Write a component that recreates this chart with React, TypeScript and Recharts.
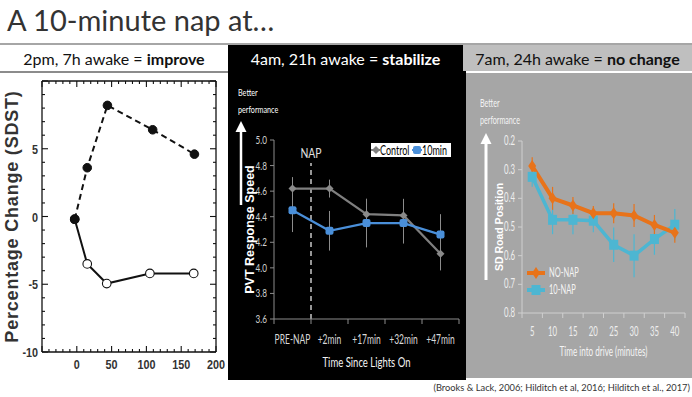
import React from 'react';
import { LineChart, Line, XAxis, YAxis, ErrorBar, ReferenceLine, Legend } from 'recharts';

const SLIDE = "Lato, 'Open Sans', sans-serif";
const HELV = "'Liberation Sans', Arial, sans-serif";
const INK = '#111111';

// ---------- Panel 1: 2pm nap (SDST percentage change) ----------
const sdstNapMinutes = [-3, 15, 44, 109, 169];
const sdstNapChange = [-0.2, 3.6, 8.2, 6.4, 4.6];
const sdstNoNapMinutes = [-3, 15, 43, 105, 168];
const sdstNoNapChange = [-0.2, -3.5, -4.95, -4.2, -4.2];
const sdstXTicks = [-50, -40, -30, -20, -10, 0, 10, 20, 30, 40, 50, 60, 70, 80, 90, 100, 110, 120, 130, 140, 150, 160, 170, 180, 190, 200];
const sdstXLabels = [0, 50, 100, 150, 200];
const sdstYTicks = [-10, -9, -8, -7, -6, -5, -4, -3, -2, -1, 0, 1, 2, 3, 4, 5, 6, 7, 8, 9, 10];
const sdstYLabels = [-10, -5, 0, 5];

// ---------- Panel 2: 4am nap (PVT response speed) ----------
const pvtCategories = ['PRE-NAP', '+2min', '+17min', '+32min', '+47min'];
const pvtControl = [4.62, 4.62, 4.42, 4.41, 4.11];
const pvtControlErr = [0.09, 0.07, 0.12, 0.13, 0.13];
const pvtNap = [4.45, 4.29, 4.35, 4.35, 4.26];
const pvtNapErr = [0.17, 0.155, 0.19, 0.16, 0.16];
const pvtYTicks = [3.6, 3.8, 4.0, 4.2, 4.4, 4.6, 4.8, 5.0];

// ---------- Panel 3: 7am nap (SD road position) ----------
const driveMinutes = [5, 10, 15, 20, 25, 30, 35, 40];
const roadNoNap = [0.287, 0.4, 0.425, 0.452, 0.452, 0.46, 0.493, 0.52];
const roadNoNapErr = [0.03, 0.04, 0.03, 0.025, 0.035, 0.04, 0.035, 0.035];
const roadTenNap = [0.325, 0.475, 0.475, 0.478, 0.562, 0.6, 0.542, 0.492];
const roadTenNapErr = [0.035, 0.05, 0.05, 0.04, 0.06, 0.075, 0.055, 0.055];
const roadYTicks = [0.2, 0.3, 0.4, 0.5, 0.6, 0.7, 0.8];

const sdstNapData = sdstNapMinutes.map((x, i) => ({ x, y: sdstNapChange[i] }));
const sdstNoNapData = sdstNoNapMinutes.map((x, i) => ({ x, y: sdstNoNapChange[i] }));
const pvtData = pvtCategories.map((name, i) => ({
  idx: i, name, control: pvtControl[i], controlErr: pvtControlErr[i], nap: pvtNap[i], napErr: pvtNapErr[i],
}));
const pvtXTicks = pvtCategories.flatMap((_, i) => [i - 0.5, i]).concat([pvtCategories.length - 0.5]);
const roadData = driveMinutes.map((m, i) => ({
  m, noNap: roadNoNap[i], noNapErr: roadNoNapErr[i], tenNap: roadTenNap[i], tenNapErr: roadTenNapErr[i],
}));
const roadXTicks = driveMinutes.flatMap((m) => [m - 2.5, m]).concat([driveMinutes[driveMinutes.length - 1] + 2.5]);

const P2 = 0.68; // horizontal squeeze of panel 2 text
const P3 = 0.6; // horizontal squeeze of panel 3 text

// horizontally squeezed svg text (the source charts are condensed)
function SqText({ x, y, anchor = 'start', size, fill, sx, weight = 400, children }: any) {
  return (
    <text transform={`translate(${x},${y}) scale(${sx},1)`} textAnchor={anchor}
      style={{ fontFamily: SLIDE, fontSize: size, fill, fontWeight: weight }}>
      {children}
    </text>
  );
}

function SqDiv({ left, top, size, color, sx, children }: any) {
  return (
    <div style={{ position: 'absolute', left, top, fontFamily: SLIDE, fontSize: size, color, lineHeight: '17px',
      transform: `scaleX(${sx})`, transformOrigin: 'left top', whiteSpace: 'nowrap' }}>
      {children}
    </div>
  );
}

// ---------- tick renderers ----------
function SdstTick(props: any) {
  const { x, y, payload, side, step, labels } = props;
  const v = payload.value;
  const major = Math.abs(v % step) < 1e-9;
  const len = major ? 6 : 3;
  let x2 = x, y2 = y;
  if (side === 'bottom') y2 = y - len;
  if (side === 'top') y2 = y + len;
  if (side === 'left') x2 = x + len;
  if (side === 'right') x2 = x - len;
  const showLabel = labels && labels.includes(v);
  return (
    <g>
      <line x1={x} y1={y} x2={x2} y2={y2} stroke={INK} strokeWidth={1.1} />
      {showLabel && side === 'bottom' && (
        <text transform={`translate(${x},${y + 17}) scale(0.8,1)`} textAnchor="middle"
          style={{ fontFamily: HELV, fontWeight: 700, fontSize: 13.5, fill: '#333' }}>{v}</text>
      )}
      {showLabel && side === 'left' && (
        <text transform={`translate(${x - 4},${y + 5}) scale(0.8,1)`} textAnchor="end"
          style={{ fontFamily: HELV, fontWeight: 700, fontSize: 13.5, fill: '#333' }}>{v}</text>
      )}
    </g>
  );
}

function CatTick(props: any) {
  const { x, y, payload, names, labelDy, color, lineColor, sx, size } = props;
  const v = payload.value;
  const idx = names.findIndex((n: any) => Math.abs(n.pos - v) < 1e-9);
  if (idx >= 0) {
    return <SqText x={x} y={y + labelDy} anchor="middle" size={size} fill={color} sx={sx}>{names[idx].label}</SqText>;
  }
  return <line x1={x} y1={y} x2={x} y2={y + 5} stroke={lineColor} strokeWidth={1} />;
}

function ValTick(props: any) {
  const { x, y, payload, color, sx, size } = props;
  return <SqText x={x} y={y + 4} anchor="end" size={size} fill={color} sx={sx}>{Number(payload.value).toFixed(1)}</SqText>;
}

const pvtNames = pvtCategories.map((label, i) => ({ pos: i, label }));
const roadNames = driveMinutes.map((m) => ({ pos: m, label: String(m) }));

function Arrow({ left, top, height, width, color }: any) {
  return (
    <svg style={{ position: 'absolute', left: left - 6, top }} width={12} height={height}>
      <line x1={6} y1={9} x2={6} y2={height} stroke={color} strokeWidth={width} />
      <path d="M0.5,11 L6,0 L11.5,11 Z" fill={color} />
    </svg>
  );
}

function PvtLegend() {
  return (
    <svg width={80} height={14} style={{ display: 'block' }}>
      <rect x={0} y={0} width={80} height={14} fill="#fff" />
      <line x1={0} y1={7} x2={9} y2={7} stroke="#7f7f7f" strokeWidth={2} />
      <path d="M5,3 L9,7 L5,11 L1,7 Z" fill="#7f7f7f" />
      <SqText x={9} y={11.5} size={12.5} fill="#000" sx={0.72}>Control</SqText>
      <line x1={41} y1={7} x2={51} y2={7} stroke="#4a8fd9" strokeWidth={2} />
      <rect x={42} y={3} width={8} height={8} rx={2} fill="#4a8fd9" />
      <SqText x={51} y={11.5} size={12.5} fill="#000" sx={0.72}>10min</SqText>
    </svg>
  );
}

function RoadLegend() {
  return (
    <svg width={80} height={36} style={{ display: 'block' }}>
      <line x1={1} y1={8} x2={19} y2={8} stroke="#e8731a" strokeWidth={4} />
      <path d="M10,2 L14,8 L10,14 L6,8 Z" fill="#e8731a" />
      <SqText x={23} y={12} size={12.5} fill="#f4f4f4" sx={P3}>NO-NAP</SqText>
      <line x1={1} y1={25} x2={19} y2={25} stroke="#4db6d2" strokeWidth={4} />
      <rect x={5.5} y={20} width={9} height={10} fill="#4db6d2" />
      <SqText x={23} y={29} size={12.5} fill="#f4f4f4" sx={P3}>10-NAP</SqText>
    </svg>
  );
}

export default function App() {
  return (
    <div style={{ position: 'absolute', left: 0, top: 0, width: 692, height: 397, background: '#fff', overflow: 'hidden' }}>
      {/* title */}
      <div style={{ position: 'absolute', left: 7, top: 2, fontFamily: SLIDE, fontSize: 29, color: '#333', whiteSpace: 'nowrap' }}>
        A 10-minute nap at…
      </div>
      <div style={{ position: 'absolute', left: 0, top: 43, width: 692, height: 2, background: '#a6a6a6' }} />
      {/* header cells */}
      <div style={{ position: 'absolute', left: 0, top: 45, width: 228, height: 26, background: '#fff', color: '#111', fontFamily: SLIDE, fontSize: 16, display: 'flex', alignItems: 'center', justifyContent: 'center', whiteSpace: 'nowrap' }}>
        2pm, 7h awake =&nbsp;<b>improve</b>
      </div>
      <div style={{ position: 'absolute', left: 228, top: 45, width: 235, height: 26, background: '#000', color: '#fff', fontFamily: SLIDE, fontSize: 16, display: 'flex', alignItems: 'center', justifyContent: 'center', whiteSpace: 'nowrap' }}>
        4am, 21h awake =&nbsp;<b>stabilize</b>
      </div>
      <div style={{ position: 'absolute', left: 463, top: 45, width: 229, height: 26, background: '#bfbfbf', color: '#111', fontFamily: SLIDE, fontSize: 16, display: 'flex', alignItems: 'center', justifyContent: 'center', whiteSpace: 'nowrap' }}>
        7am, 24h awake =&nbsp;<b>no change</b>
      </div>
      <div style={{ position: 'absolute', left: 0, top: 71, width: 228, height: 1.5, background: '#8c8c8c' }} />

      {/* panel backgrounds */}
      <div style={{ position: 'absolute', left: 228, top: 71, width: 238, height: 309, background: '#000' }} />
      <div style={{ position: 'absolute', left: 466, top: 73, width: 226, height: 305, background: '#a6a6a6' }} />

      {/* ---------- Panel 1 ---------- */}
      <div style={{ position: 'absolute', left: 0, top: 73 }}>
        <LineChart width={228} height={308} margin={{ top: 7, right: 11, bottom: 0, left: 0 }}>
          <XAxis xAxisId="b" type="number" dataKey="x" domain={[-50, 200]} ticks={sdstXTicks} interval={0}
            height={29} tickSize={0} tickMargin={0} tickLine={false} allowDataOverflow
            axisLine={{ stroke: INK, strokeWidth: 1.3 }}
            tick={(p: any) => <SdstTick {...p} side="bottom" step={50} labels={sdstXLabels} />} />
          <XAxis xAxisId="t" orientation="top" type="number" dataKey="x" domain={[-50, 200]} ticks={sdstXTicks} interval={0}
            height={1} tickSize={0} tickMargin={0} tickLine={false} allowDataOverflow
            axisLine={{ stroke: INK, strokeWidth: 1.3 }}
            tick={(p: any) => <SdstTick {...p} side="top" step={50} />} />
          <YAxis yAxisId="l" type="number" domain={[-10, 10]} ticks={sdstYTicks} interval={0}
            width={42} tickSize={0} tickMargin={0} tickLine={false} allowDataOverflow
            axisLine={{ stroke: INK, strokeWidth: 1.3 }}
            tick={(p: any) => <SdstTick {...p} side="left" step={5} labels={sdstYLabels} />}
            label={{ value: 'Percentage Change (SDST)', angle: -90, position: 'insideLeft', offset: 12,
              style: { textAnchor: 'middle', fontFamily: HELV, fontWeight: 700, fontSize: 18, letterSpacing: 0.8, fill: '#333' } }} />
          <YAxis yAxisId="r" orientation="right" type="number" domain={[-10, 10]} ticks={sdstYTicks} interval={0}
            width={1} tickSize={0} tickMargin={0} tickLine={false} allowDataOverflow
            axisLine={{ stroke: INK, strokeWidth: 1.3 }}
            tick={(p: any) => <SdstTick {...p} side="right" step={5} />} />
          <Line xAxisId="b" yAxisId="l" data={sdstNoNapData} dataKey="y" stroke={INK} strokeWidth={2}
            isAnimationActive={false}
            dot={(p: any) => <circle key={`o${p.index}`} cx={p.cx} cy={p.cy} r={4.3} fill={p.index === 0 ? INK : '#fff'} stroke={INK} strokeWidth={1.1} />} />
          <Line xAxisId="b" yAxisId="l" data={sdstNapData} dataKey="y" stroke={INK} strokeWidth={2} strokeDasharray="6 4"
            isAnimationActive={false}
            dot={(p: any) => <circle key={`f${p.index}`} cx={p.cx} cy={p.cy} r={4.3} fill={INK} stroke={INK} strokeWidth={1} />} />
        </LineChart>
      </div>

      {/* ---------- Panel 2 ---------- */}
      <SqDiv left={238} top={84} size={10} color="#fff" sx={0.72}>Better<br />performance</SqDiv>
      <Arrow left={241} top={121} height={84} width={2.5} color="#fff" />
      <div style={{ position: 'absolute', left: 228, top: 73 }}>
        <LineChart width={235} height={308} data={pvtData} margin={{ top: 67, right: 4, bottom: 0, left: 0 }}>
          <XAxis type="number" dataKey="idx" domain={[-0.5, pvtCategories.length - 0.5]} ticks={pvtXTicks} interval={0}
            height={62} tickSize={0} tickMargin={0} tickLine={false}
            axisLine={{ stroke: '#8c8c8c', strokeWidth: 1 }}
            tick={(p: any) => <CatTick {...p} names={pvtNames} labelDy={25} color="#d9d9d9" lineColor="#8c8c8c" sx={P2} size={12.5} />}
            label={{ content: (lp: any) => {
              const vb = lp.viewBox;
              return <SqText x={vb.x + vb.width / 2} y={vb.y + vb.height - 14} anchor="middle" size={14} fill="#f2f2f2" sx={P2}>Time Since Lights On</SqText>;
            } }} />
          <YAxis type="number" domain={[3.6, 5.0]} ticks={pvtYTicks} interval={0} width={46}
            tickSize={4} tickMargin={3}
            tickLine={{ stroke: '#8c8c8c' }} axisLine={{ stroke: '#8c8c8c', strokeWidth: 1 }}
            tick={(p: any) => <ValTick {...p} color="#d0d0d0" sx={P2} size={12} />}
            label={{ value: 'PVT Response Speed', angle: -90, position: 'insideLeft', offset: 22,
              style: { textAnchor: 'middle', fontFamily: HELV, fontWeight: 700, fontSize: 12.5, fill: '#fff' } }} />
          <ReferenceLine segment={[{ x: 0.5, y: 3.6 }, { x: 0.5, y: 4.82 }]} stroke="#e6e6e6" strokeWidth={1.3} strokeDasharray="5 4"
            label={{ content: (lp: any) => {
              const vb = lp.viewBox || {};
              const cx = (vb.x ?? 0) + (vb.width ?? 0) / 2;
              return <SqText x={cx} y={(vb.y ?? 0) - 5} anchor="middle" size={14} fill="#e0e0e0" sx={0.74}>NAP</SqText>;
            } }} />
          <Line dataKey="control" stroke="#7f7f7f" strokeWidth={2.2} isAnimationActive={false}
            dot={(p: any) => <path key={`c${p.index}`} d={`M${p.cx},${p.cy - 4} L${p.cx + 4},${p.cy} L${p.cx},${p.cy + 4} L${p.cx - 4},${p.cy} Z`} fill="#8a8a8a" />}>
            <ErrorBar dataKey="controlErr" width={0} stroke="#8c8c8c" strokeWidth={1} direction="y" />
          </Line>
          <Line dataKey="nap" stroke="#4a8fd9" strokeWidth={2.2} isAnimationActive={false}
            dot={(p: any) => <rect key={`n${p.index}`} x={p.cx - 4} y={p.cy - 4} width={8} height={8} rx={2} fill="#4a8fd9" />}>
            <ErrorBar dataKey="napErr" width={0} stroke="#8c8c8c" strokeWidth={1} direction="y" />
          </Line>
          <Legend layout="horizontal" verticalAlign="middle" align="center" content={() => <PvtLegend />}
            wrapperStyle={{ left: 143, top: 70, width: 80, height: 14 }} />
        </LineChart>
      </div>

      {/* ---------- Panel 3 ---------- */}
      <SqDiv left={480} top={94} size={11} color="#f4f4f4" sx={P3 + 0.05}>Better<br />performance</SqDiv>
      <Arrow left={486} top={133} height={147} width={3} color="#fff" />
      <div style={{ position: 'absolute', left: 466, top: 73 }}>
        <LineChart width={226} height={305} data={roadData} margin={{ top: 68, right: 7, bottom: 0, left: 0 }}>
          <XAxis type="number" dataKey="m" domain={[2.5, 42.5]} ticks={roadXTicks} interval={0}
            height={65} tickSize={0} tickMargin={0} tickLine={false}
            axisLine={{ stroke: '#cfcfcf', strokeWidth: 1 }}
            tick={(p: any) => <CatTick {...p} names={roadNames} labelDy={23} color="#eeeeee" lineColor="#cfcfcf" sx={P3} size={13} />}
            label={{ content: (lp: any) => {
              const vb = lp.viewBox;
              return <SqText x={vb.x + vb.width / 2} y={vb.y + vb.height - 22} anchor="middle" size={13.5} fill="#f4f4f4" sx={P3}>Time into drive (minutes)</SqText>;
            } }} />
          <YAxis type="number" domain={[0.2, 0.8]} reversed ticks={roadYTicks} interval={0} width={56}
            tickSize={4} tickMargin={3}
            tickLine={{ stroke: '#cfcfcf' }} axisLine={{ stroke: '#cfcfcf', strokeWidth: 1 }}
            tick={(p: any) => <ValTick {...p} color="#eeeeee" sx={P3} size={13} />}
            label={{ value: 'SD Road Position', angle: -90, position: 'insideLeft', offset: 33,
              style: { textAnchor: 'middle', fontFamily: HELV, fontWeight: 700, fontSize: 10.5, fill: '#fff' } }} />
          <Line dataKey="tenNap" stroke="#4db6d2" strokeWidth={3.5} isAnimationActive={false}
            dot={(p: any) => <rect key={`t${p.index}`} x={p.cx - 4.5} y={p.cy - 5} width={9} height={10} fill="#4db6d2" />}>
            <ErrorBar dataKey="tenNapErr" width={0} stroke="#4db6d2" strokeWidth={1.2} direction="y" />
          </Line>
          <Line dataKey="noNap" stroke="#e8731a" strokeWidth={4} isAnimationActive={false}
            dot={(p: any) => <path key={`o${p.index}`} d={`M${p.cx},${p.cy - 6} L${p.cx + 4},${p.cy} L${p.cx},${p.cy + 6} L${p.cx - 4},${p.cy} Z`} fill="#e8731a" />}>
            <ErrorBar dataKey="noNapErr" width={0} stroke="#e8731a" strokeWidth={1.2} direction="y" />
          </Line>
          <Legend layout="horizontal" verticalAlign="middle" align="center" content={() => <RoadLegend />}
            wrapperStyle={{ left: 60, top: 192, width: 80, height: 36 }} />
        </LineChart>
      </div>

      {/* citation */}
      <div style={{ position: 'absolute', right: 2, top: 382, fontFamily: SLIDE, fontSize: 9.3, color: '#333', whiteSpace: 'nowrap' }}>
        (Brooks &amp; Lack, 2006; Hilditch et al, 2016; Hilditch et al., 2017)
      </div>
    </div>
  );
}
